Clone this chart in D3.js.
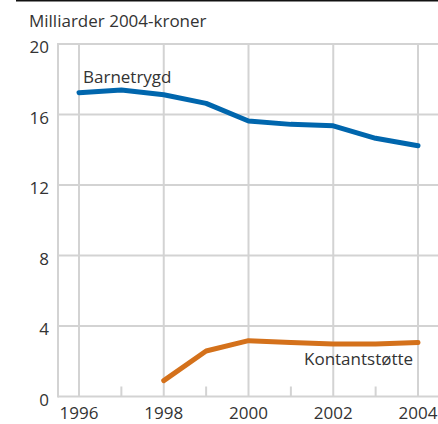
<!DOCTYPE html>
<html><head><meta charset="utf-8">
<script src="https://cdn.jsdelivr.net/npm/d3@7"></script>
<style>html,body{margin:0;padding:0;background:#fff;}svg{display:block;}</style>
</head><body>
<svg id="c" width="438" height="424"></svg>
<script>
const years = [1996,1997,1998,1999,2000,2001,2002,2003,2004];
const barnetrygd = [17.24,17.39,17.12,16.63,15.63,15.44,15.36,14.65,14.23];
const kontantYears = [1998,1999,2000,2001,2002,2003,2004];
const kontantstotte = [0.9,2.58,3.17,3.07,2.98,2.98,3.07];
const yTicks = [0,4,8,12,16,20];
const xTickLabels = [1996,1998,2000,2002,2004];
const unitLabel = "Milliarder 2004-kroner";
const seriesNames = ["Barnetrygd","Kontantstøtte"];

const svg = d3.select("#c");
const font = "'Open Sans', sans-serif";
const textColor = "#333";
const gridColor = "#d3d3d3";
const x = d3.scaleLinear().domain([1996,2004]).range([79,418]);
const y = d3.scaleLinear().domain([0,20]).range([396.5,44]);

svg.append("line").attr("x1",16).attr("x2",438).attr("y1",0.75).attr("y2",0.75)
  .attr("stroke","#111").attr("stroke-width",1.5);

svg.append("text").attr("x",29).attr("y",27).attr("font-family",font).attr("font-size",17)
  .attr("fill",textColor).text(unitLabel);

// horizontal gridlines
svg.append("g").selectAll("line").data(yTicks).join("line")
  .attr("x1",58).attr("x2",438).attr("y1",d=>y(d)).attr("y2",d=>y(d))
  .attr("stroke",gridColor).attr("stroke-width",2);
// vertical gridlines
svg.append("g").selectAll("line").data(xTickLabels).join("line")
  .attr("x1",d=>x(d)).attr("x2",d=>x(d)).attr("y1",y(20)).attr("y2",y(0))
  .attr("stroke",gridColor).attr("stroke-width",2);
// minor ticks
svg.append("g").selectAll("line").data(years.filter(d=>d%2===1)).join("line")
  .attr("x1",d=>x(d)).attr("x2",d=>x(d)).attr("y1",y(0)-10).attr("y2",y(0))
  .attr("stroke",gridColor).attr("stroke-width",2);
// left axis line
svg.append("line").attr("x1",58).attr("x2",58).attr("y1",y(20)-1).attr("y2",y(0)+1)
  .attr("stroke",gridColor).attr("stroke-width",2);

// y labels
svg.append("g").selectAll("text").data(yTicks).join("text")
  .attr("x",49).attr("y",d=>y(d)+9).attr("text-anchor","end")
  .attr("font-family",font).attr("font-size",17).attr("fill",textColor).text(d=>d);
// x labels
svg.append("g").selectAll("text").data(xTickLabels).join("text")
  .attr("x",d=>x(d)).attr("y",419).attr("text-anchor","middle")
  .attr("font-family",font).attr("font-size",17).attr("fill",textColor).text(d=>d);

const line = d3.line().x(d=>x(d[0])).y(d=>y(d[1]));
svg.append("path").datum(years.map((yr,i)=>[yr,barnetrygd[i]]))
  .attr("d",line).attr("fill","none").attr("stroke","#0066ad").attr("stroke-width",5)
  .attr("stroke-linejoin","round").attr("stroke-linecap","round");
svg.append("path").datum(kontantYears.map((yr,i)=>[yr,kontantstotte[i]]))
  .attr("d",line).attr("fill","none").attr("stroke","#d4711b").attr("stroke-width",5)
  .attr("stroke-linejoin","round").attr("stroke-linecap","round");

svg.append("text").attr("x",83).attr("y",83).attr("font-family",font).attr("font-size",17)
  .attr("fill",textColor).text(seriesNames[0]);
svg.append("text").attr("x",304).attr("y",365).attr("font-family",font).attr("font-size",17)
  .attr("fill",textColor).text(seriesNames[1]);
</script>
</body></html>
